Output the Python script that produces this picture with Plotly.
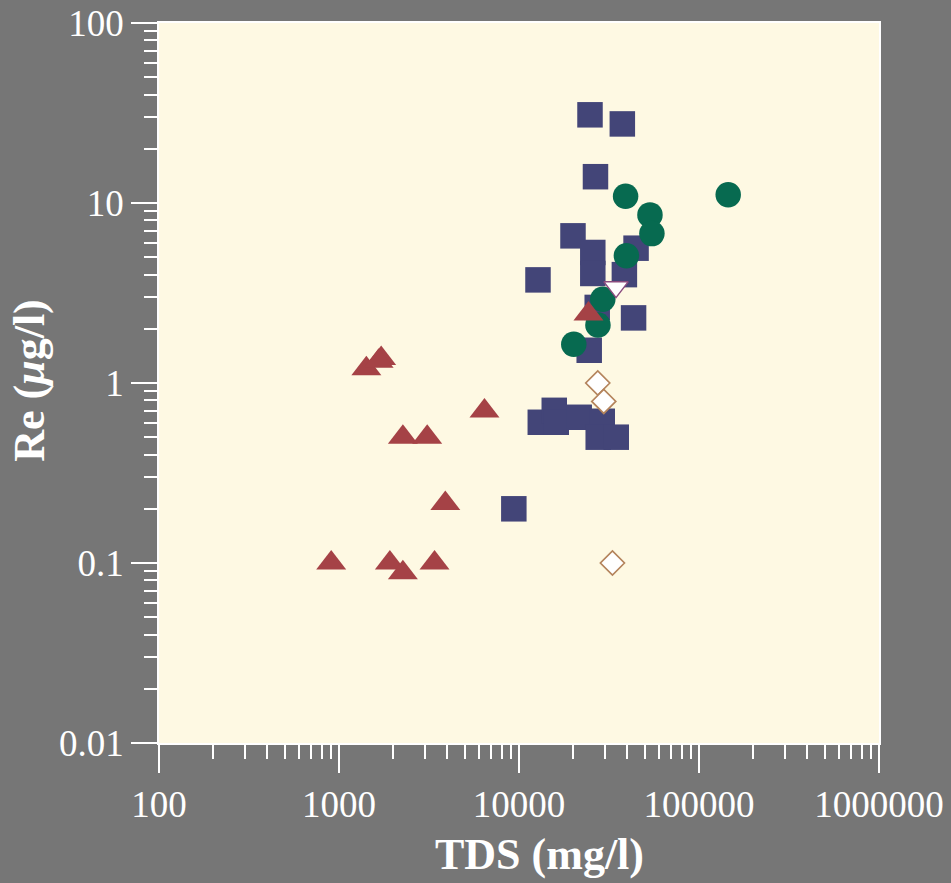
import plotly.graph_objects as go

# ---- data (TDS in mg/l, Re in µg/l) ----
sq_tds = [24800, 37500, 26600, 19950, 25700, 25700, 44700, 38500, 12750, 43300,
          27200, 24550, 13130, 15700, 16100, 21600, 29000, 27550, 34700, 9360]
sq_re = [30.9, 27.5, 14.0, 6.57, 5.31, 4.06, 5.61, 4.00, 3.74, 2.30,
         2.63, 1.52, 0.605, 0.705, 0.605, 0.645, 0.613, 0.50, 0.50, 0.20]

ci_tds = [39100, 145300, 53400, 54750, 39500, 29200, 27450, 20150]
ci_re = [10.9, 11.1, 8.59, 6.76, 5.09, 2.92, 2.10, 1.64]

tu_tds = [1419, 1715, 1660, 6430, 2264, 3090, 3896, 905, 1917, 2264, 3394, 24320]
tu_re = [1.20, 1.37, 1.32, 0.698, 0.50, 0.50, 0.214, 0.10, 0.10, 0.0883, 0.10, 2.42]

td_tds = [34600]
td_re = [3.41]

di_tds = [27390, 29580, 33050]
di_re = [1.0, 0.79, 0.10]

x_tickvals = [100, 1000, 10000, 100000, 1000000]
x_ticktext = ["100", "1000", "10000", "100000", "1000000"]
y_tickvals = [0.01, 0.1, 1, 10, 100]
y_ticktext = ["0.01", "0.1", "1", "10", "100"]

x_title = "TDS (mg/l)"
y_title = "Re (<i>\u03bc</i>g/l)"

# ---- styles ----
PAPER = "#767676"
PLOT = "#FEF9E3"
FONT = "Liberation Serif"

fig = go.Figure()
fig.add_trace(go.Scatter(x=sq_tds, y=sq_re, mode="markers",
                         marker=dict(symbol="square", size=25.5, color="#434578",
                                     line=dict(width=0))))
fig.add_trace(go.Scatter(x=ci_tds, y=ci_re, mode="markers",
                         marker=dict(symbol="circle", size=25.5, color="#076A50",
                                     line=dict(width=0))))
fig.add_trace(go.Scatter(x=tu_tds, y=tu_re, mode="markers",
                         marker=dict(symbol="triangle-up", size=26, color="#A54246",
                                     line=dict(width=0))))
fig.add_trace(go.Scatter(x=td_tds, y=td_re, mode="markers",
                         marker=dict(symbol="triangle-down", size=21, color="white",
                                     line=dict(width=1.5, color="#8A4C7E"))))
fig.add_trace(go.Scatter(x=di_tds, y=di_re, mode="markers",
                         marker=dict(symbol="diamond", size=18.5, color="white",
                                     line=dict(width=1.7, color="#B4845C"))))

axis_common = dict(
    type="log", tickmode="array",
    showgrid=False, zeroline=False,
    showline=True, linecolor="white", linewidth=1.5, mirror=True,
    ticks="outside", tickcolor="white", tickwidth=1.5,
    tickfont=dict(family=FONT, size=37, color="white"),
)

fig.update_xaxes(**axis_common, range=[2, 6], ticklen=28,
                 tickvals=x_tickvals, ticktext=x_ticktext,
                 minor=dict(ticks="outside", ticklen=14, tickwidth=1.5,
                            tickcolor="white", tickmode="linear", dtick="D1",
                            showgrid=False))
fig.update_yaxes(**axis_common, range=[-2, 2], ticklen=26,
                 tickvals=y_tickvals, ticktext=y_ticktext,
                 minor=dict(ticks="outside", ticklen=13, tickwidth=1.5,
                            tickcolor="white", tickmode="linear", dtick="D1",
                            showgrid=False))

fig.add_annotation(text="<b>" + x_title + "</b>", xref="paper", yref="paper",
                   x=0.528, y=-0.1555, xanchor="center", yanchor="middle",
                   showarrow=False, font=dict(family=FONT, size=44, color="white"))
fig.add_annotation(text="<b>" + y_title + "</b>", xref="paper", yref="paper",
                   x=-0.181, y=0.504, xanchor="center", yanchor="middle", textangle=-90,
                   showarrow=False, font=dict(family=FONT, size=44, color="white"))

fig.update_layout(
    width=951, height=883,
    margin=dict(l=158.5, r=72, t=22.5, b=140, autoexpand=False),
    paper_bgcolor=PAPER, plot_bgcolor=PLOT,
    showlegend=False,
    font=dict(family=FONT, color="white"),
)

fig.write_html("out.html")
